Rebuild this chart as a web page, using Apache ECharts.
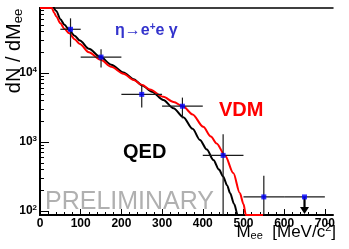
<!DOCTYPE html>
<html>
<head>
<meta charset="utf-8">
<script src="https://cdn.jsdelivr.net/npm/echarts@6/dist/echarts.min.js"></script>
<style>
html,body{margin:0;padding:0;background:#fff;}
#c{width:349px;height:249px;}
</style>
</head>
<body>
<div id="c"></div>
<script>
// ---- data ----
const xCenters = [75, 150, 250, 350, 450, 550, 650];
const xLow     = [50, 100, 200, 300, 400, 500, 600];
const xHigh    = [100, 200, 300, 400, 500, 600, 700];
const yValues  = [43000, 17000, 4900, 3300, 640, 160, 160];
const yErrors  = [19000, 5000, 1750, 1100, 660, 165, 0];
const upperLimit = [false, false, false, false, false, false, true];

const qedX = [30, 40, 50, 60, 72, 85, 98, 120, 149, 175, 205, 230, 251, 275, 303, 328, 352, 375, 393, 410, 426, 440, 450, 460, 467, 477, 486, 495];
const qedY = [100000, 79400, 60300, 50100, 41700, 34700, 29500, 22400, 17000, 13200, 10200, 8130, 6610, 5370, 4070, 3090, 2290, 1550, 1070, 776, 550, 398, 316, 234, 182, 126, 87, 50];

const vdmX = [0, 29, 35, 40, 50, 60, 72, 85, 98, 120, 149, 175, 205, 230, 251, 270, 303, 328, 352, 375, 401, 420, 434, 455, 475, 491, 500, 506, 548];
const vdmY = [87500, 87500, 74100, 66100, 52500, 43700, 37600, 30900, 26300, 19950, 15500, 12300, 9770, 7940, 6680, 5750, 4520, 3800, 3260, 2510, 1660, 1200, 955, 631, 355, 182, 126, 87.5, 87.5];

const xMin = 0, xMax = 720;
const yMin = 87.5, yMax = 87500;
const xMajorTicks = [0, 100, 200, 300, 400, 500, 600, 700];
const xMinorTicks = [];
for (let v = 20; v < 720; v += 20) if (v % 100 !== 0) xMinorTicks.push(v);
const yMajorTicks = [100, 1000, 10000];
const yMinorTicks = [200,300,400,500,600,700,800,900,2000,3000,4000,5000,6000,7000,8000,9000,20000,30000,40000,50000,60000,70000,80000];

// ---- chart ----
const FONT = '"Liberation Sans", Arial, "DejaVu Sans", sans-serif';
const chart = echarts.init(document.getElementById('c'), null, {renderer: 'canvas'});

const pts = xCenters.map((x, i) => [x, yValues[i], xLow[i], xHigh[i],
  upperLimit[i] ? yValues[i] : yValues[i] - yErrors[i],
  upperLimit[i] ? yValues[i] : yValues[i] + yErrors[i],
  upperLimit[i] ? 1 : 0]);

function renderErr(params, api) {
  const x = api.value(0), y = api.value(1);
  const xl = api.value(2), xh = api.value(3);
  let yl = api.value(4), yh = api.value(5);
  const lim = api.value(6);
  const c = api.coord([x, y]);
  const pl = api.coord([xl, y]);
  const ph = api.coord([xh, y]);
  const children = [];
  const ls = {stroke: '#1a1a1a', lineWidth: 1.2};
  children.push({type: 'line', shape: {x1: pl[0], y1: pl[1], x2: ph[0], y2: ph[1]}, style: ls});
  if (lim) {
    const bot = api.coord([x, yMin]);
    const tipY = bot[1] - 1;
    children.push({type: 'line', shape: {x1: c[0], y1: c[1], x2: c[0], y2: tipY - 5}, style: {stroke: '#000', lineWidth: 2.2}});
    children.push({type: 'polygon', shape: {points: [[c[0] - 4.5, tipY - 7], [c[0] + 4.5, tipY - 7], [c[0], tipY]]}, style: {fill: '#000'}});
  } else {
    if (yl <= 0) yl = 1;
    const a = api.coord([x, yh]);
    const b = api.coord([x, yl]);
    children.push({type: 'line', shape: {x1: a[0], y1: a[1], x2: b[0], y2: b[1]}, style: ls});
  }
  return {type: 'group', children: children};
}

const hiddenAxisBits = {axisLabel: {show: false}, splitLine: {show: false}};

chart.setOption({
  animation: false,
  backgroundColor: '#fff',
  grid: {left: 40, right: 16, top: 8, bottom: 34, outerBoundsMode: 'none', containLabel: false},
  xAxis: [
    {type: 'value', min: xMin, max: xMax, position: 'bottom',
     axisLine: {show: true, lineStyle: {color: '#000', width: 2}},
     axisTick: {show: true, inside: true, length: 6, customValues: xMajorTicks, lineStyle: {color: '#000', width: 1}},
     axisLabel: {show: true, customValues: xMajorTicks, fontFamily: FONT, fontWeight: 'bold', fontSize: 12, color: '#000', margin: 3},
     splitLine: {show: false}},
    Object.assign({type: 'value', min: xMin, max: xMax, position: 'bottom',
     axisLine: {show: false},
     axisTick: {show: true, inside: true, length: 3, customValues: xMinorTicks, lineStyle: {color: '#000', width: 1}}}, hiddenAxisBits),
    Object.assign({type: 'value', min: xMin, max: xMax, position: 'top',
     axisLine: {show: true, lineStyle: {color: '#000', width: 1.5}},
     axisTick: {show: false}}, hiddenAxisBits)
  ],
  yAxis: [
    {type: 'log', logBase: 10, min: yMin, max: yMax, position: 'left',
     axisLine: {show: true, lineStyle: {color: '#000', width: 2}},
     axisTick: {show: true, inside: true, length: 9, customValues: yMajorTicks, lineStyle: {color: '#000', width: 1}},
     axisLabel: {show: true, customValues: yMajorTicks, margin: 3, color: '#000',
       formatter: function (v) { return '{b|10}{s|' + Math.round(Math.log10(v)) + '}'; },
       rich: {b: {fontFamily: FONT, fontWeight: 'bold', fontSize: 12, color: '#000'},
              s: {fontFamily: FONT, fontWeight: 'bold', fontSize: 8, color: '#000', padding: [0, 0, 7, 0]}}},
     splitLine: {show: false}},
    Object.assign({type: 'log', logBase: 10, min: yMin, max: yMax, position: 'left',
     axisLine: {show: false},
     axisTick: {show: true, inside: true, length: 4, customValues: yMinorTicks, lineStyle: {color: '#000', width: 1}}}, hiddenAxisBits),
    Object.assign({type: 'log', logBase: 10, min: yMin, max: yMax, position: 'right',
     axisLine: {show: true, lineStyle: {color: '#000', width: 2}},
     axisTick: {show: false}}, hiddenAxisBits)
  ],
  series: [
    {type: 'line', name: 'QED', xAxisIndex: 0, yAxisIndex: 0, data: qedX.map((x, i) => [x, qedY[i]]),
     showSymbol: false, smooth: 0.3, smoothMonotone: 'x', lineStyle: {color: '#000', width: 2}, clip: true, z: 2},
    {type: 'line', name: 'VDM', xAxisIndex: 0, yAxisIndex: 0, data: vdmX.map((x, i) => [x, vdmY[i]]),
     showSymbol: false, smooth: 0.3, smoothMonotone: 'x', lineStyle: {color: '#ff0000', width: 2}, clip: false, z: 3},
    {type: 'custom', xAxisIndex: 0, yAxisIndex: 0, data: pts, renderItem: renderErr, clip: true, z: 4},
    {type: 'scatter', xAxisIndex: 0, yAxisIndex: 0, data: xCenters.map((x, i) => [x, yValues[i]]),
     symbol: 'rect', symbolSize: 5, itemStyle: {color: '#0000ff'}, z: 5}
  ],
  graphic: [
    {type: 'text', x: 14, y: 51, rotation: Math.PI / 2,
     style: {text: 'dN / dM{sub|ee}', fill: '#000', align: 'center', verticalAlign: 'middle',
       font: '20px ' + FONT,
       rich: {sub: {fontSize: 13, fontFamily: FONT, fill: '#000', padding: [8, 0, 0, 0]}}}},
    {type: 'text', x: 336, y: 232,
     style: {text: 'M{sub|ee}  [MeV/c{sup|2}]', fill: '#000', align: 'right', verticalAlign: 'middle',
       font: '17px ' + FONT,
       rich: {sub: {fontSize: 11, fontFamily: FONT, fill: '#000', padding: [8, 0, 0, 0]},
              sup: {fontSize: 11, fontFamily: FONT, fill: '#000', padding: [0, 0, 8, 0]}}}},
    {type: 'text', x: 115, y: 31,
     style: {text: 'η→e{sup|+}e γ', fill: '#3333cc', align: 'left', verticalAlign: 'middle',
       font: 'bold 16px ' + FONT,
       rich: {sup: {fontSize: 10, fontWeight: 'bold', fontFamily: FONT, fill: '#3333cc', padding: [0, 0, 8, 0]}}}},
    {type: 'text', x: 219, y: 110,
     style: {text: 'VDM', fill: '#ff0000', align: 'left', verticalAlign: 'middle', font: 'bold 20px ' + FONT}},
    {type: 'text', x: 123, y: 152,
     style: {text: 'QED', fill: '#000', align: 'left', verticalAlign: 'middle', font: 'bold 20px ' + FONT}},
    {type: 'text', x: 45, y: 202, z: 0,
     style: {text: 'PRELIMINARY', fill: '#b0b0b0', align: 'left', verticalAlign: 'middle', font: '25px ' + FONT}}
  ]
});
</script>
</body>
</html>
